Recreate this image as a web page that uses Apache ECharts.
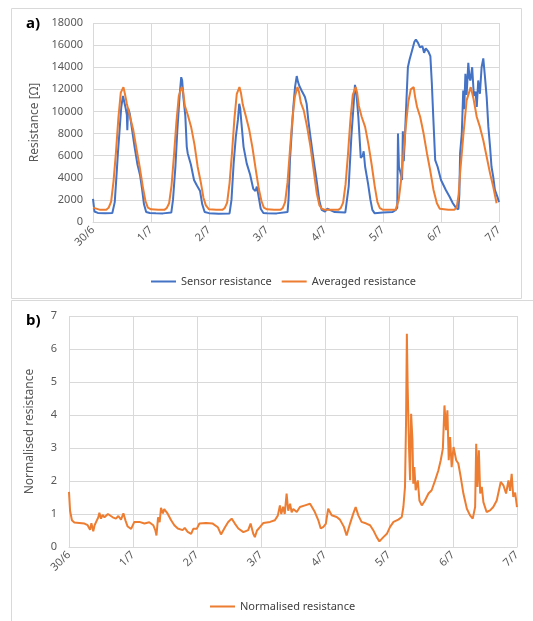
<!DOCTYPE html>
<html lang="en" style="height: 100%">
<head>
    <meta charset="UTF-8">
    <title>Resistance</title>
    <script type="text/javascript" src="https://cdn.jsdelivr.net/npm/echarts@6.0.0/dist/echarts.min.js"></script>
</head>
<body style="height: 100%;margin: 0;background:#fff">

<div id="contar" style="width:533px;height:621px"></div>

<script type="text/javascript">
    // day labels, one every 24 h
    dayLabels = ['30/6', '1/7', '2/7', '3/7', '4/7', '5/7', '6/7', '7/7'];

    // a) sensor resistance (hours since 30/6, ohm)
    sensorHours = [
        0, 0.6, 2, 5, 8, 9, 9.7, 10.3, 11, 11.7, 12.4, 12.9, 13.5, 14, 14.2, 14.5, 15.2, 16, 17.2, 18.4, 19.5, 20.3, 21.1, 22, 23.5,
        26, 29, 32.4, 33.1, 34.1, 34.9, 35.9, 36.5, 36.9, 37.4, 38.2, 38.8, 39.2, 40.5, 41.8, 43, 44.3, 45.2, 46.2, 48,
        52, 56.5, 57.3, 58.2, 59.1, 60, 60.5, 60.9, 61.4, 62.3, 63.6, 65, 66.3, 67.2, 67.8, 68.3, 69.4, 70.5, 72,
        76, 80.5, 80.9, 81.5, 82.2, 82.9, 83.6, 84.3, 84.8, 85.4, 86.3, 87.7, 88.4, 89.1, 89.8, 91.1, 92.5, 93.6, 94.6, 96,
        97, 98, 100, 104.4, 105.8, 106.9, 107.9, 108.4, 109, 109.8, 110.8, 111.6, 112, 112.6, 113.8, 114.8, 115.6, 116.5, 120,
        124, 125.3, 125.9, 126.2, 126.6, 127.2, 127.9, 128.2, 128.6, 129.2, 129.7, 130.3, 131, 132, 133, 133.6, 134.5, 135.3, 136.3, 137, 137.7, 138.8, 139.6, 140.2, 140.8, 141.6, 142.6, 144, 146, 147.5, 148.9, 150.3,
        151.2, 151.6, 151.9, 152.6, 153.2, 153.6, 154.1, 154.6, 155.3, 155.8, 156.2, 156.9, 157.6, 158.3, 158.8, 159.4, 160.1, 160.8, 161.5, 162.2, 162.9, 163.6, 164.3, 164.9, 165.6, 166.3, 167.3, 168
    ];
    sensorOhms = [
        2100, 950, 820, 800, 820, 1800, 4100, 6200, 8300, 10400, 11400, 10900, 10300, 9700, 8300, 10300, 9800, 8600, 6800, 5200, 4200, 3000, 1600, 900, 820,
        800, 780, 850, 2000, 5000, 8300, 11600, 13100, 12800, 11300, 9600, 6800, 6200, 5200, 3800, 3300, 2800, 1600, 900, 800,
        750, 780, 2000, 5300, 7700, 9300, 10700, 10300, 9000, 6800, 5300, 4300, 3000, 2800, 3200, 2600, 1200, 820, 800,
        780, 900, 2000, 5600, 8000, 10400, 12200, 13200, 12700, 12300, 11900, 11300, 10700, 9200, 8000, 5900, 3800, 2000, 1100, 950,
        1200, 1100, 900, 850, 3200, 7700, 10800, 12400, 11600, 9500, 5800, 6000, 6400, 5000, 3500, 2000, 1100, 800, 850,
        900, 1100, 1300, 8000, 5000, 4500, 3800, 8200, 5500, 8400, 11000, 14000, 14700, 15500, 16300, 16500, 16200, 15800, 15900, 15300, 15700, 15400, 15000, 12600, 9500, 5600, 5000, 3800, 2900, 2300, 1700, 1250,
        1150, 2500, 6200, 8000, 11900, 10200, 13400, 11500, 14400, 13000, 12800, 14000, 11400, 11800, 10400, 12800, 11600, 14000, 14800, 13100, 11300, 8600, 6800, 5000, 4100, 2900, 2300, 1800
    ];

    // a) averaged resistance
    avgHours = [
        0, 3, 5.5, 6.5, 7.5, 8.5, 9.5, 10.5, 11.5, 12.6, 13.2, 14, 15.2, 16.6, 18, 19.3, 20.6, 21.7, 22.7,
        24, 27, 29.5, 30.5, 31.5, 32.5, 33.5, 34.5, 35.5, 36.7, 37.3, 38, 39.2, 40.6, 42, 43.3, 44.6, 45.7, 46.7,
        48, 51, 53.5, 54.5, 55.5, 56.5, 57.5, 58.5, 59.5, 60.6, 61.2, 62, 63.2, 64.6, 66, 67.3, 68.6, 69.7, 70.7,
        72, 75, 77.5, 78.5, 79.5, 80.5, 81.5, 82.5, 83.5, 84.6, 85.2, 86, 87.2, 88.6, 90, 91.3, 92.6, 93.7, 94.7,
        96, 99, 101.5, 102.5, 103.5, 104.5, 105.5, 106.5, 107.5, 108.7, 109.3, 110, 111.2, 112.6, 114, 115.3, 116.6, 117.7, 118.7,
        120, 123, 125.2, 126.5, 127.5, 128.5, 129.5, 130.5, 131.5, 132.7, 133.3, 134.1, 135.4, 136.8, 138.2, 139.5, 140.9, 142.3, 143.5,
        144, 147, 149.5, 150.5, 151.3, 151.9, 152.6, 153.3, 154.6, 156.3, 157.4, 158.8, 160.1, 161.5, 162.9, 164.3, 165.6, 167
    ];
    avgOhms = [
        1300, 1100, 1100, 1300, 1850, 3700, 6300, 9400, 11700, 12200, 11600, 10700, 9600, 8400, 6600, 5000, 3200, 1900, 1300,
        1150, 1100, 1100, 1250, 1700, 3300, 6000, 9000, 11400, 12200, 11800, 10500, 9700, 8600, 7000, 5000, 3600, 2200, 1500,
        1150, 1100, 1100, 1250, 1750, 3500, 6200, 9300, 11600, 12200, 11700, 10600, 9600, 8400, 6700, 4800, 3000, 1900, 1300,
        1150, 1100, 1100, 1250, 1800, 3600, 6500, 9300, 11300, 12200, 11800, 10800, 10100, 8600, 6800, 4700, 2600, 1500, 1200,
        1100, 1100, 1100, 1250, 1750, 3400, 6100, 9200, 11500, 12200, 11700, 10500, 9500, 8600, 7000, 5200, 3200, 1800, 1250,
        1100, 1100, 1100, 2000, 3800, 6300, 8800, 10900, 12000, 12200, 11300, 10400, 9500, 8000, 6200, 4700, 2900, 1700, 1200,
        1100, 1100, 1100, 1300, 2500, 4400, 6200, 8000, 11000, 12200, 11200, 9500, 8600, 7400, 5900, 4400, 3200, 1700
    ];

    // b) normalised resistance
    normHours = [
        0, 0.4, 1.1, 2, 3.9, 5.8, 7, 7.5, 7.9, 8.4, 9.1, 9.6, 10.4, 11, 11.4, 12, 12.6, 13.3, 13.9, 14.6, 15.3, 16.4, 17.6, 18.5, 19.5, 20.4, 21.2, 22, 23.3,
        24.5, 26.4, 28.3, 30.1, 31.6, 32.4, 32.8, 33.4, 34, 34.5, 35.2, 35.7, 36.1, 37, 38.3, 39.5, 40.8, 42.6, 43.4, 44.5, 45.8, 46.6, 47.9,
        48.9, 51.4, 53.9, 55.8, 57, 58.5, 59.7, 61, 62.2, 63.5, 65.4, 67.2, 68.1, 69.1, 69.7, 70.5, 71.6,
        72.9, 75.4, 77.2, 78.3, 79.1, 79.6, 80.3, 80.9, 81.6, 82.2, 82.9, 83.5, 84.1, 85.4, 86.6, 88.5, 90.4, 91.1, 92.2, 93.5, 94.4, 95.4,
        96.3, 97.2, 98.5, 100.4, 101.6, 103.1, 104.1, 105.4, 106.6, 107.5, 108.5, 109.7, 111.5, 112.9, 114.1, 115.4, 116.4, 117.9, 119.2,
        120.4, 121.7, 123.5, 124.8, 125.4, 126, 126.4, 126.7, 127, 127.5, 127.9, 128.3, 128.8, 129.1, 129.5, 130, 130.8, 131.4, 132.3, 133.5, 134.8, 136, 137.3, 138.5, 139.4, 140.2, 140.8, 141.4, 141.9, 142.4, 142.9, 143.5,
        144.2, 145.2, 146, 146.9, 147.9, 149.2, 150.4, 151.4, 152.3, 152.7, 153.2, 153.7, 154.2, 154.8, 155.4, 156.6, 157.9, 159.1, 160.4, 161.9, 162.9, 163.9, 164.8, 165.4, 166, 166.6, 167.3, 168
    ];
    normValues = [
        1.67, 1.1, 0.81, 0.74, 0.73, 0.71, 0.66, 0.7, 0.52, 0.72, 0.48, 0.66, 0.8, 0.9, 1.04, 0.86, 0.97, 0.9, 0.92, 1.0, 0.94, 0.9, 0.86, 0.94, 0.83, 1.02, 0.8, 0.62, 0.55,
        0.76, 0.76, 0.71, 0.75, 0.66, 0.5, 0.35, 0.9, 0.75, 1.19, 1.02, 1.15, 1.1, 1.01, 0.81, 0.66, 0.56, 0.51, 0.58, 0.46, 0.4, 0.55, 0.55,
        0.71, 0.73, 0.71, 0.6, 0.38, 0.6, 0.76, 0.86, 0.71, 0.56, 0.45, 0.51, 0.71, 0.4, 0.3, 0.5, 0.6,
        0.73, 0.76, 0.81, 0.95, 1.26, 1.0, 1.22, 1.0, 1.62, 1.1, 1.31, 1.05, 1.15, 1.06, 1.21, 1.26, 1.31, 1.26, 1.06, 0.81, 0.56, 0.61,
        0.7, 1.16, 0.96, 0.91, 0.83, 0.61, 0.35, 0.71, 1.01, 1.21, 0.96, 0.76, 0.71, 0.66, 0.51, 0.3, 0.17, 0.3, 0.4,
        0.61, 0.76, 0.83, 0.91, 1.22, 1.82, 3.84, 6.46, 4.85, 3.03, 2.02, 4.04, 3.23, 1.92, 2.42, 1.72, 2.02, 1.41, 1.26, 1.41, 1.62, 1.72, 2.02, 2.32, 2.63, 2.98, 4.29, 3.54, 4.14, 2.63, 3.33, 2.42,
        3.03, 2.63, 2.53, 2.12, 1.62, 1.16, 0.96, 0.86, 1.21, 3.13, 1.82, 2.93, 1.62, 1.82, 1.36, 1.06, 1.11, 1.21, 1.41, 1.97, 1.87, 1.62, 2.02, 1.7, 2.22, 1.52, 1.65, 1.21
    ];

    function pairs(xs, ys) {
        var out = [];
        for (var i = 0; i < xs.length; i++) {
            out.push([xs[i], ys[i]]);
        }
        return out;
    }

    var font = 'Noto Sans';
    var gridColor = '#d9d9d9';
    var textColor = '#595959';

    function xAxisFor(idx) {
        return {
            type: 'value',
            gridIndex: idx,
            min: 0,
            max: 168,
            interval: 24,
            axisLine: {show: true, lineStyle: {color: gridColor}},
            axisTick: {show: false},
            splitLine: {show: true, lineStyle: {color: gridColor}},
            axisLabel: {
                rotate: 45,
                color: textColor,
                fontFamily: font,
                fontSize: 11,
                margin: 6,
                formatter: function (v) { return dayLabels[Math.round(v / 24)]; }
            }
        };
    }

    var chart = echarts.init(document.getElementById('contar'));
    option = {
        backgroundColor: '#fff',
        animation: false,
        graphic: [
            {type: 'rect', shape: {x: 11.5, y: 8.5, width: 510, height: 290}, style: {fill: 'none', stroke: gridColor, lineWidth: 1}},
            {type: 'rect', shape: {x: 11.5, y: 300.5, width: 540, height: 340}, style: {fill: 'none', stroke: gridColor, lineWidth: 1}},
            {type: 'text', left: 26, top: 16, style: {text: 'a)', font: 'bold 15px Noto Sans', fill: '#000'}},
            {type: 'text', left: 26, top: 313, style: {text: 'b)', font: 'bold 15px Noto Sans', fill: '#000'}}
        ],
        grid: [
            {left: 93, top: 23, width: 406, height: 199},
            {left: 69, top: 316, width: 448, height: 231}
        ],
        legend: [
            {
                data: ['Sensor resistance', 'Averaged resistance'],
                left: 146, top: 271,
                icon: 'rect', itemWidth: 25, itemHeight: 2, itemGap: 10,
                textStyle: {color: '#404040', fontFamily: font, fontSize: 11}
            },
            {
                data: ['Normalised resistance'],
                left: 205, top: 596,
                icon: 'rect', itemWidth: 25, itemHeight: 2,
                textStyle: {color: '#404040', fontFamily: font, fontSize: 11}
            }
        ],
        xAxis: [xAxisFor(0), xAxisFor(1)],
        yAxis: [
            {
                type: 'value', gridIndex: 0, min: 0, max: 18000, interval: 2000,
                name: 'Resistance [\u03A9]', nameLocation: 'middle', nameGap: 47,
                nameTextStyle: {color: textColor, fontFamily: font, fontSize: 12},
                axisLine: {show: false}, axisTick: {show: false},
                splitLine: {lineStyle: {color: gridColor}},
                axisLabel: {
                    color: textColor, fontFamily: font, fontSize: 11, margin: 10,
                    formatter: function (v) { return String(v); }
                }
            },
            {
                type: 'value', gridIndex: 1, min: 0, max: 7, interval: 1,
                name: 'Normalised resistance', nameLocation: 'middle', nameGap: 33,
                nameTextStyle: {color: textColor, fontFamily: font, fontSize: 12},
                axisLine: {show: false}, axisTick: {show: false},
                splitLine: {lineStyle: {color: gridColor}},
                axisLabel: {color: textColor, fontFamily: font, fontSize: 11, margin: 12}
            }
        ],
        series: [
            {
                name: 'Sensor resistance', type: 'line', xAxisIndex: 0, yAxisIndex: 0,
                showSymbol: false, color: '#4472c4', lineStyle: {width: 2},
                data: pairs(sensorHours, sensorOhms)
            },
            {
                name: 'Averaged resistance', type: 'line', xAxisIndex: 0, yAxisIndex: 0,
                showSymbol: false, color: '#ed7d31', lineStyle: {width: 2},
                data: pairs(avgHours, avgOhms)
            },
            {
                name: 'Normalised resistance', type: 'line', xAxisIndex: 1, yAxisIndex: 1,
                showSymbol: false, color: '#ed7d31', lineStyle: {width: 2},
                data: pairs(normHours, normValues)
            }
        ]
    };
    chart.setOption(option);
</script>

</body>
</html>
